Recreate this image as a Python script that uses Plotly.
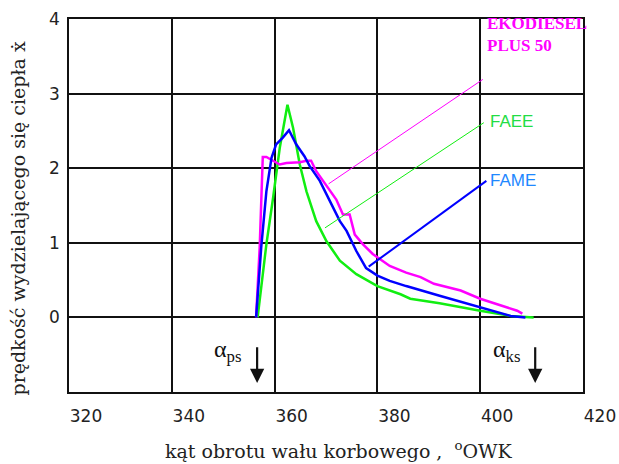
import plotly.graph_objects as go

# ---- data ----
mag_x = [356.4, 357.1, 357.7, 358.4, 359.7, 361.0, 362.3, 364.9, 366.2, 367.1, 368.1, 370.1, 372.0,
         373.3, 374.6, 375.6, 377.2, 379.1, 382.4, 385.6, 388.4, 391.0, 396.2, 400.0, 404.0, 407.2, 408.2]
mag_y = [0, 0.94, 2.15, 2.15, 2.10, 2.05, 2.07, 2.08, 2.10, 2.10, 1.96, 1.76, 1.58,
         1.38, 1.38, 1.11, 0.98, 0.85, 0.69, 0.60, 0.54, 0.45, 0.36, 0.25, 0.16, 0.09, 0.05]

green_x = [356.7, 358.4, 359.7, 361.0, 362.5, 363.6, 364.9, 366.2, 368.1, 370.1, 372.7, 375.9,
           380.0, 384.5, 386.4, 392.1, 400.0, 405.9, 410.4]
green_y = [0, 0.98, 1.60, 2.27, 2.85, 2.54, 2.05, 1.69, 1.29, 1.02, 0.76, 0.58,
           0.42, 0.31, 0.25, 0.19, 0.09, 0.02, 0]

blue_x = [356.4, 357.4, 358.4, 359.4, 360.3, 361.6, 362.8, 364.2, 365.8, 366.8, 368.8, 370.7,
          372.7, 374.0, 375.9, 377.8, 380.0, 382.4, 385.6, 392.1, 400.0, 405.9, 408.8]
blue_y = [0, 0.94, 1.69, 2.14, 2.32, 2.41, 2.51, 2.32, 2.16, 2.03, 1.83, 1.56,
          1.29, 1.16, 0.89, 0.66, 0.56, 0.49, 0.42, 0.29, 0.13, 0.02, 0]

# leader lines from curves to labels: (x0, y0, x1, y1)
mag_leader = [370.5, 1.79, 400.5, 3.19]
green_leader = [369.8, 1.20, 400.7, 2.61]
blue_leader = [378.3, 0.68, 401.2, 1.83]

labels = ["EKODIESEL<br>PLUS 50", "FAEE", "FAME"]
x_ticks = [320, 340, 360, 380, 400, 420]
y_ticks = [0, 1, 2, 3, 4]

# markers for start / end of combustion
alpha_ps_x = 356.6
alpha_ks_x = 410.7

MAG = "#ff00ff"
GRN = "#11ee11"
BLU = "#0000ff"

fig = go.Figure()
fig.add_trace(go.Scatter(x=green_x, y=green_y, mode="lines", line=dict(color=GRN, width=2.5)))
fig.add_trace(go.Scatter(x=mag_x, y=mag_y, mode="lines", line=dict(color=MAG, width=2.5)))
fig.add_trace(go.Scatter(x=blue_x, y=blue_y, mode="lines", line=dict(color=BLU, width=2.5)))

for ld, col, w in [(mag_leader, MAG, 1), (green_leader, GRN, 1), (blue_leader, BLU, 2)]:
    fig.add_trace(go.Scatter(x=[ld[0], ld[2]], y=[ld[1], ld[3]], mode="lines",
                             line=dict(color=col, width=w)))

fig.update_layout(
    width=619, height=464,
    margin=dict(l=69, r=36, t=19, b=72, autoexpand=False),
    paper_bgcolor="white", plot_bgcolor="white",
    showlegend=False,
)
fig.update_xaxes(range=[320, 420], tickvals=x_ticks, showgrid=True, gridcolor="#111", gridwidth=1.5,
                 showline=True, mirror=True, linecolor="#111", linewidth=1.5, zeroline=False,
                 ticks="", ticklabelshift=17, ticklabelstandoff=8, automargin=False,
                 tickfont=dict(family="DejaVu Sans", size=17, color="#222"))
fig.update_yaxes(range=[-1, 4], tickvals=y_ticks, showgrid=True, gridcolor="#111", gridwidth=1.5,
                 showline=True, mirror=True, linecolor="#111", linewidth=1.5, zeroline=False,
                 ticks="", ticklabelstandoff=4, automargin=False,
                 tickfont=dict(family="DejaVu Sans", size=17, color="#222"))

# series labels
fig.add_annotation(x=400.9, y=3.79, text="<b>" + labels[0] + "</b>", showarrow=False,
                   xanchor="left", yanchor="middle", align="left",
                   font=dict(family="Liberation Serif", size=17, color=MAG))
fig.add_annotation(x=401.6, y=2.62, text=labels[1], showarrow=False, xanchor="left", yanchor="middle",
                   font=dict(family="Liberation Sans", size=17, color="#22dd44"))
fig.add_annotation(x=401.6, y=1.84, text=labels[2], showarrow=False, xanchor="left", yanchor="middle",
                   font=dict(family="Liberation Sans", size=17, color="#1e88ff"))

# alpha markers
fig.add_annotation(x=354.0, y=-0.45, text="α<sub>ps</sub>", showarrow=False, xanchor="right",
                   yanchor="middle", font=dict(family="Liberation Serif", size=24, color="#111"))
fig.add_annotation(x=408.4, y=-0.45, text="α<sub>ks</sub>", showarrow=False, xanchor="right",
                   yanchor="middle", font=dict(family="Liberation Serif", size=24, color="#111"))
for ax_ in [alpha_ps_x, alpha_ks_x]:
    fig.add_annotation(x=ax_, y=-0.88, ax=ax_, ay=-0.38, xref="x", yref="y", axref="x", ayref="y",
                       text="", showarrow=True, arrowhead=2, arrowsize=1.3, arrowwidth=2.2,
                       arrowcolor="#111")

# axis titles
fig.add_annotation(x=0.525, y=-0.155, xref="paper", yref="paper",
                   text="kąt obrotu wału korbowego ,  <sup>o</sup>OWK", showarrow=False,
                   xanchor="center", yanchor="middle",
                   font=dict(family="DejaVu Serif", size=19, color="#222"))
fig.add_annotation(x=-0.1, y=0.464, xref="paper", yref="paper",
                   text="prędkość wydzielającego się ciepła ẋ", showarrow=False, textangle=-90,
                   xanchor="center", yanchor="middle",
                   font=dict(family="DejaVu Serif", size=19, color="#222"))

fig.write_html("out.html", config={"displayModeBar": False},
               post_script="document.body.style.margin='0';document.body.style.overflow='hidden';")
